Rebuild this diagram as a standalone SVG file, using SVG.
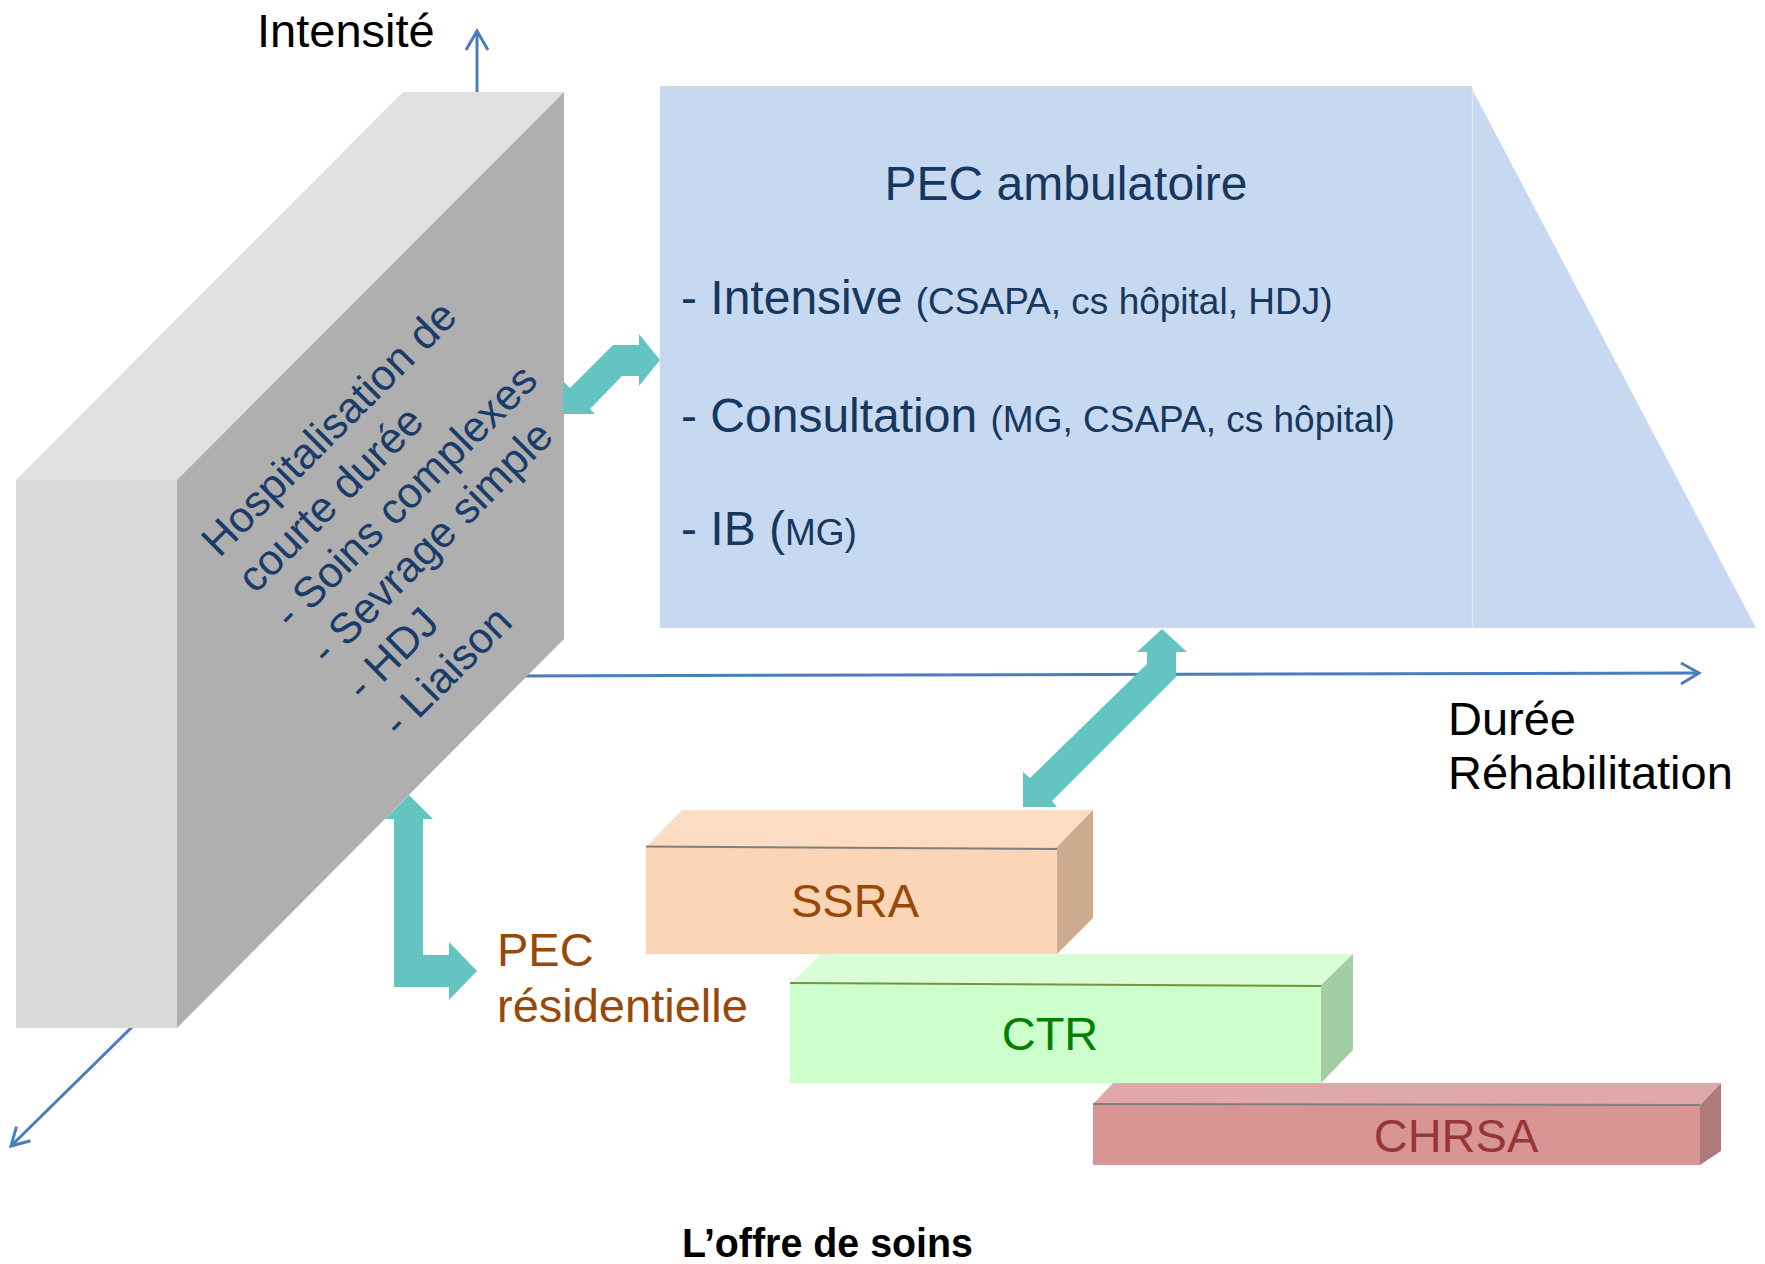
<svg xmlns="http://www.w3.org/2000/svg" width="1765" height="1264" viewBox="0 0 1765 1264">
<style>
text{font-family:"Liberation Sans",Arial,sans-serif}
.axis{stroke:#4a7ebb;stroke-width:3;fill:none}
.teal{fill:#64c4c2}
.navy{fill:#17375e}
.big{font-size:48px}
.small{font-size:37px}
.lbl{font-size:47px}
.rot{font-size:43px;fill:#1a3c6a}
</style>
<rect width="1765" height="1264" fill="#ffffff"/>
<g id="axes">
<line class="axis" x1="477" y1="150" x2="477" y2="31"/>
<polyline class="axis" points="466,50 477,31 488,50"/>
<line class="axis" x1="500" y1="676" x2="1699" y2="673"/>
<polyline class="axis" points="1681,663 1699,673 1681,684"/>
<line class="axis" x1="250" y1="911" x2="11" y2="1146"/>
<polyline class="axis" points="30.5,1140.8 11,1146 16.5,1126.6"/>
</g>
<g id="connectors">
<polygon class="teal" points="409,795 433,819 423,819 423,955 449,955 449,942 477,971 449,1000 449,987 394,987 394,819 385,819"/>
</g>
<g id="hospitalisation">
<polygon points="16,480 403,92 564,92 177,480" fill="#e0e0e0"/>
<rect x="16" y="480" width="161" height="548" fill="#d9d9d9"/>
<polygon points="177,480 564,92 564,639 177,1028" fill="#afafaf"/>
<text class="rot" transform="rotate(-45)">
<tspan x="-240" y="550">Hospitalisation de</tspan>
<tspan x="-240" y="601">courte durée</tspan>
<tspan x="-240" y="652">- Soins complexes</tspan>
<tspan x="-240" y="703">- Sevrage simple</tspan>
<tspan x="-240" y="754">- HDJ</tspan>
<tspan x="-240" y="805">- Liaison</tspan>
</text>
</g>
<g id="ambulatoire">
<rect x="660" y="86" width="812" height="542" fill="#c6d9f0"/>
<polygon points="1472,89 1756,628 1472,628" fill="#c6d9f0"/>
<line x1="1472.5" y1="88" x2="1472.5" y2="628" stroke="#dfe8f4" stroke-width="1.5"/>
<text class="navy big" x="1066" y="200" text-anchor="middle">PEC ambulatoire</text>
<text class="navy" x="681" y="314"><tspan class="big">- Intensive </tspan><tspan class="small">(CSAPA, cs hôpital, HDJ)</tspan></text>
<text class="navy" x="681" y="432"><tspan class="big">- Consultation </tspan><tspan class="small">(MG, CSAPA, cs hôpital)</tspan></text>
<text class="navy" x="681" y="545"><tspan class="big">- IB (</tspan><tspan class="small">MG)</tspan></text>
</g>
<g id="connectors2">
<polygon class="teal" points="660,360 639,334 639,345 613,345 570,388 563,381 563,414 595,414 590,409 622,376 639,376 639,386"/>
<polygon class="teal" points="1162,629 1187,652 1176,652 1176,677 1052,801 1057,807 1023,807 1023,772 1030,778 1147,664 1147,652 1137,652"/>
</g>
<g id="ssra">
<polygon points="646,847 682,810 1093,810 1057,847" fill="#fcdcc2"/>
<rect x="646" y="847" width="411" height="107" fill="#fbd5b5"/>
<polygon points="1057,847 1093,810 1093,918 1057,954" fill="#ccab8f"/>
<line x1="646" y1="846.5" x2="1057" y2="849" stroke="#7f7f7f" stroke-width="2"/>
<text class="lbl" x="855" y="917" text-anchor="middle" fill="#984807">SSRA</text>
</g>
<g id="ctr">
<polygon points="790,984 821,954 1353,954 1321,985" fill="#d9fdd6"/>
<rect x="790" y="984" width="531" height="99" fill="#ccffcc"/>
<polygon points="1321,985 1353,954 1353,1050 1321,1083" fill="#a3cda3"/>
<line x1="790" y1="983" x2="1321" y2="986" stroke="#77933c" stroke-width="2"/>
<text class="lbl" x="1050" y="1050" text-anchor="middle" fill="#008000">CTR</text>
</g>
<g id="chrsa">
<polygon points="1093,1104 1113,1083 1721,1083 1700,1105" fill="#e0a8a8"/>
<rect x="1093" y="1104" width="607" height="61" fill="#d99594"/>
<polygon points="1700,1105 1721,1083 1721,1151 1700,1165" fill="#b07a7a"/>
<line x1="1093" y1="1104" x2="1700" y2="1105" stroke="#7f7f7f" stroke-width="2"/>
<text class="lbl" x="1456" y="1152" text-anchor="middle" fill="#953735">CHRSA</text>
</g>
<g id="labels">
<text class="lbl" x="257" y="47" fill="#000000">Intensité</text>
<text class="lbl" x="1448" y="735" fill="#000000">Durée</text>
<text class="lbl" x="1448" y="789" fill="#000000">Réhabilitation</text>
<text class="lbl" x="497" y="966" fill="#984807">PEC</text>
<text class="lbl" x="497" y="1022" fill="#984807">résidentielle</text>
<text x="682" y="1257" font-size="40" font-weight="bold" fill="#000000" textLength="291" lengthAdjust="spacingAndGlyphs">L’offre de soins</text>
</g>
</svg>
